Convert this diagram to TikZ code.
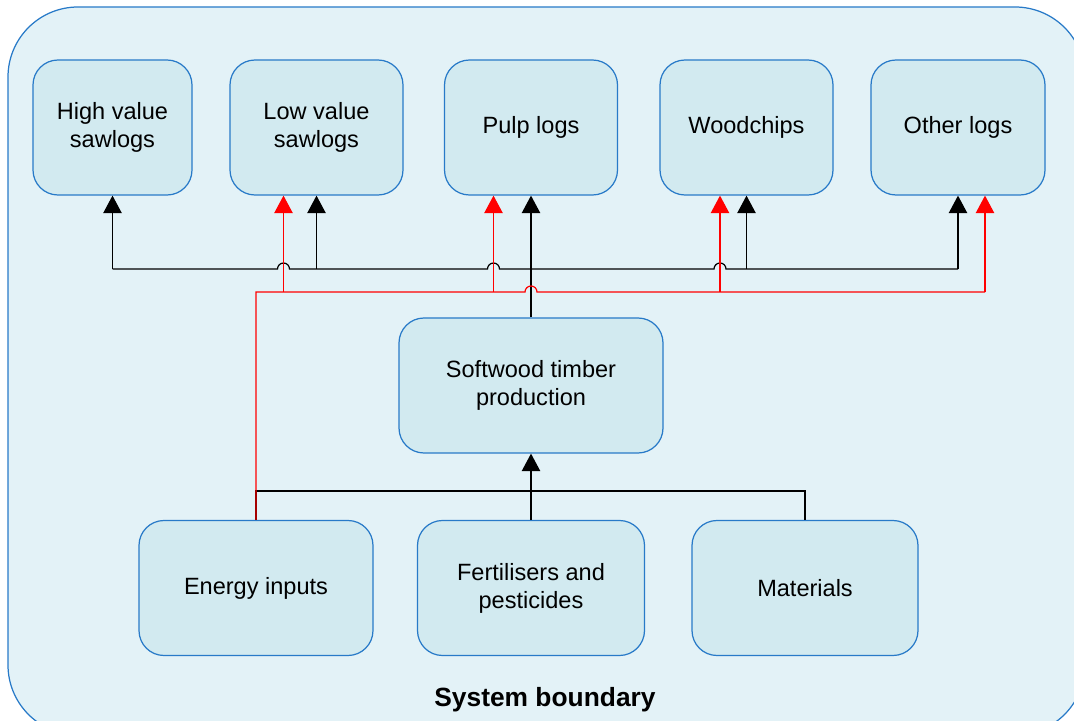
\documentclass[tikz,border=0pt]{standalone}
\usepackage{fontspec}
\setmainfont{Liberation Sans}
\usetikzlibrary{arrows.meta,calc}
\definecolor{boundfill}{RGB}{227,242,247}
\definecolor{boxfill}{RGB}{210,234,240}
\definecolor{boxline}{RGB}{40,122,200}

\begin{document}
\begin{tikzpicture}[>={Triangle[width=10.5pt,length=10pt]},
  box node/.style={rectangle,rounded corners=0.5cm,draw=boxline,fill=boxfill,line width=0.7pt,
    minimum height=2.7cm,align=center,font=\fontsize{13.4}{16}\selectfont},
  flow/.style={line width=0.7pt,black},
  red flow/.style={line width=0.7pt,red}]

  \useasboundingbox (0,0) rectangle (21.48,14.4);
  \draw[boxline,fill=boundfill,line width=0.7pt,rounded corners=1.4cm] (0.16,-0.3) rectangle (21.7,14.26);

  \node[box node,minimum width=3.18cm] (hv) at (2.25,11.85) {High value\\sawlogs};
  \node[box node,minimum width=3.46cm] (lv) at (6.33,11.85) {Low value\\sawlogs};
  \node[box node,minimum width=3.46cm] (pulp) at (10.62,11.85) {Pulp logs};
  \node[box node,minimum width=3.46cm] (wood) at (14.93,11.85) {Woodchips};
  \node[box node,minimum width=3.48cm] (other) at (19.16,11.85) {Other logs};
  \node[box node,minimum width=5.28cm] (soft) at (10.62,6.69) {Softwood timber\\production};
  \node[box node,minimum width=4.68cm] (energy) at (5.12,2.64) {Energy inputs};
  \node[box node,minimum width=4.54cm] (fert) at (10.62,2.64) {Fertilisers and\\pesticides};
  \node[box node,minimum width=4.52cm] (mat) at (16.1,2.64) {Materials};
  \node[font=\fontsize{15}{18}\selectfont\bfseries] (sb) at (10.9,0.4) {System boundary};

  \coordinate (bbus) at (0,9.02);
  \coordinate (rbus) at (0,8.56);
  \coordinate (ibus) at (0,4.58);
  \coordinate (lvr) at ([xshift=-0.66cm]lv.south);
  \coordinate (pulpr) at ([xshift=-0.75cm]pulp.south);
  \coordinate (woodr) at ([xshift=-0.53cm]wood.south);
  \coordinate (otherr) at ([xshift=0.54cm]other.south);

  % inputs
  \draw[flow] (energy.north) |- (mat.north |- ibus) -- (mat.north);
  \draw[flow,->] (fert.north) -- (soft.south);

  % black products
  \draw[flow] (hv.south |- bbus)
    -- ($(lvr |- bbus)-(0.12,0)$) arc[start angle=180,end angle=0,radius=0.12cm]
    -- ($(pulpr |- bbus)-(0.12,0)$) arc[start angle=180,end angle=0,radius=0.12cm]
    -- ($(woodr |- bbus)-(0.12,0)$) arc[start angle=180,end angle=0,radius=0.12cm]
    -- (other.south |- bbus);
  \path[flow,->]
    (hv.south |- bbus) edge (hv.south)
    (lv.south |- bbus) edge (lv.south)
    (soft.north) edge (pulp.south)
    (wood.south |- bbus) edge (wood.south)
    (other.south |- bbus) edge (other.south);

  % red energy flows
  \draw[red flow] (energy.north) |- ($(soft.north |- rbus)-(0.12,0)$)
    arc[start angle=180,end angle=0,radius=0.12cm] -- (otherr |- rbus);
  \path[red flow,->]
    (lvr |- rbus) edge (lvr)
    (pulpr |- rbus) edge (pulpr)
    (woodr |- rbus) edge (woodr)
    (otherr |- rbus) edge (otherr);

\end{tikzpicture}
\end{document}
